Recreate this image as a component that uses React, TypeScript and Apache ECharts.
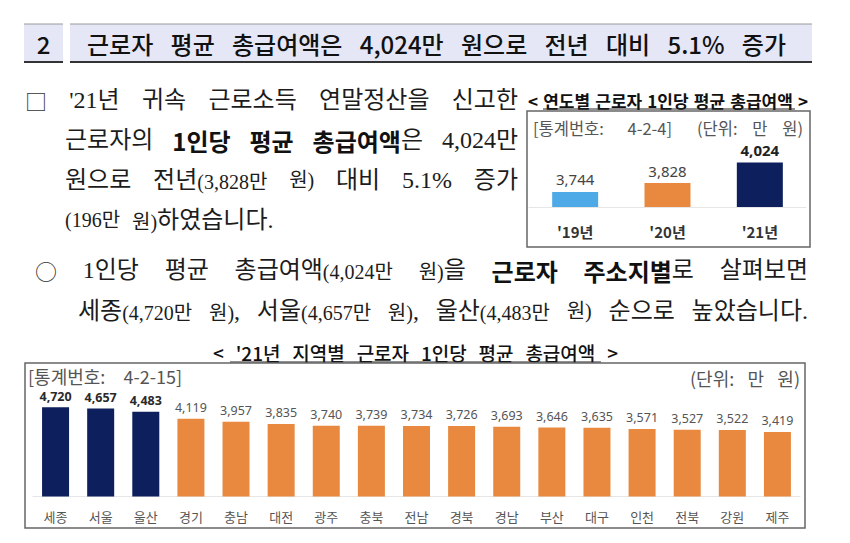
import React, { useEffect, useRef } from "react";
import * as echarts from "echarts";

// ---- data ----
const yearCategories = ["'19년", "'20년", "'21년"];
const yearValues = [3744, 3828, 4024];

const regionCategories = ["세종", "서울", "울산", "경기", "충남", "대전", "광주", "충북", "전남", "경북", "경남", "부산", "대구", "인천", "전북", "강원", "제주"];
const regionValues = [4720, 4657, 4483, 4119, 3957, 3835, 3740, 3739, 3734, 3726, 3693, 3646, 3635, 3571, 3527, 3522, 3419];

const NAVY = "#0d1f5c";
const ORANGE = "#e8893f";
const SKY = "#4eaae6";

const BODY = "'Liberation Serif','Noto Sans CJK KR',serif";
const SANS = "'Noto Sans CJK KR','Noto Sans',sans-serif";
const LABEL = "'Noto Sans','Noto Sans CJK KR',sans-serif";

const fmt = (v: number) => v.toLocaleString("en-US");

type Sty = { fontSize: number; fontFamily: string; fontWeight?: any; fill: string };
const rich: Record<string, Sty> = {
  n: { fontSize: 24, fontFamily: BODY, fill: "#1c1c1c" },
  b: { fontSize: 24, fontFamily: SANS, fontWeight: "bold", fill: "#111" },
  p: { fontSize: 20, fontFamily: BODY, fill: "#1c1c1c" },
  c: { fontSize: 22, fontFamily: SANS, fill: "#333" },
  h: { fontSize: 24, fontFamily: SANS, fontWeight: 500, fill: "#111" },
  t: { fontSize: 17, fontFamily: SANS, fontWeight: "bold", fill: "#111" },
  T: { fontSize: 19, fontFamily: SANS, fontWeight: 500, fill: "#111" },
  s: { fontSize: 16.5, fontFamily: SANS, fill: "#555" },
  S: { fontSize: 18, fontFamily: SANS, fill: "#555" },
};

let ctx: CanvasRenderingContext2D | null = null;
function measure(token: string) {
  if (!ctx) ctx = document.createElement("canvas").getContext("2d");
  let w = 0;
  const re = /\{(\w+)\|([^}]*)\}/g;
  let m: RegExpExecArray | null;
  while ((m = re.exec(token))) {
    const st = rich[m[1]];
    ctx!.font = `${st.fontWeight || "normal"} ${st.fontSize}px ${st.fontFamily}`;
    w += ctx!.measureText(m[2]).width;
  }
  return w;
}

function richStyle() {
  const out: any = {};
  Object.keys(rich).forEach((k) => {
    out[k] = { ...rich[k], verticalAlign: "bottom" };
  });
  return out;
}
const RICH = richStyle();

function txtEl(x: number, y: number, text: string, align = "left") {
  return {
    type: "text", x, y, silent: true,
    style: { text, rich: RICH, textAlign: align, textVerticalAlign: "middle" },
  };
}

// spread tokens evenly between left and right (justified line)
function justify(tokens: string[], left: number, right: number, y: number) {
  const widths = tokens.map(measure);
  const total = widths.reduce((a, b) => a + b, 0);
  const gap = tokens.length > 1 ? (right - left - total) / (tokens.length - 1) : 0;
  let x = left;
  return tokens.map((t, i) => {
    const el = txtEl(x, y, t);
    x += widths[i] + gap;
    return el;
  });
}

function flow(tokens: string[], left: number, y: number, gap: number) {
  let x = left;
  return tokens.map((t) => {
    const el = txtEl(x, y, t);
    x += measure(t) + gap;
    return el;
  });
}

export default function App() {
  const ref = useRef<HTMLDivElement>(null);
  useEffect(() => {
    if (!ref.current) return;
    const chart = echarts.init(ref.current, undefined, { renderer: "svg" });
    const graphic: any[] = [
      // header boxes
      { type: "rect", shape: { x: 24, y: 24, width: 39, height: 38 }, style: { fill: "#e5e7f6" } },
      { type: "rect", shape: { x: 70, y: 24, width: 742, height: 38 }, style: { fill: "#e5e7f6" } },
      { type: "line", shape: { x1: 24, y1: 24, x2: 63, y2: 24 }, style: { stroke: "#9a9a9a", lineWidth: 1 } },
      { type: "line", shape: { x1: 70, y1: 24, x2: 812, y2: 24 }, style: { stroke: "#9a9a9a", lineWidth: 1 } },
      { type: "line", shape: { x1: 24, y1: 62, x2: 63, y2: 62 }, style: { stroke: "#333", lineWidth: 2 } },
      { type: "line", shape: { x1: 70, y1: 62, x2: 812, y2: 62 }, style: { stroke: "#333", lineWidth: 2 } },
      txtEl(43.5, 43, "{h|2}", "center"),
      ...justify(["{h|근로자}", "{h|평균}", "{h|총급여액은}", "{h|4,024만}", "{h|원으로}", "{h|전년}", "{h|대비}", "{h|5.1%}", "{h|증가}"], 87, 786, 43),
      // paragraph 1
      ...justify(["{c|□}", "{n|'21년}", "{n|귀속}", "{n|근로소득}", "{n|연말정산을}", "{n|신고한}"], 25, 518, 100),
      ...justify(["{n|근로자의}", "{b|1인당}", "{b|평균}", "{b|총급여액}{n|은}", "{n|4,024만}"], 65, 518, 140),
      ...justify(["{n|원으로}", "{n|전년}{p|(3,828만}", "{p|원)}", "{n|대비}", "{n|5.1%}", "{n|증가}"], 65, 518, 180),
      ...flow(["{p|(196만}", "{p|원)}{n|하였습니다.}"], 65, 220, 12),
      // paragraph 2
      ...justify(["{c|○}", "{n|1인당}", "{n|평균}", "{n|총급여액}{p|(4,024만}", "{p|원)}{n|을}", "{b|근로자}", "{b|주소지별}{n|로}", "{n|살펴보면}"], 35, 808, 270),
      ...justify(["{n|세종}{p|(4,720만}", "{p|원)}{n|,}", "{n|서울}{p|(4,657만}", "{p|원)}{n|,}", "{n|울산}{p|(4,483만}", "{p|원)}", "{n|순으로}", "{n|높았습니다.}"], 78, 808, 311),
      // small chart frame
      ...justify(["{t|<}", "{t|연도별}", "{t|근로자}", "{t|1인당}", "{t|평균}", "{t|총급여액}", "{t|>}"], 528, 808, 100),
      { type: "line", shape: { x1: 543, y1: 109, x2: 795, y2: 109 }, style: { stroke: "#222", lineWidth: 1 } },
      { type: "rect", shape: { x: 527, y: 111, width: 283, height: 136 }, style: { fill: "none", stroke: "#666", lineWidth: 1.5 } },
      ...justify(["{s|[통계번호:}", "{s|4-2-4]}"], 533, 672, 128),
      ...justify(["{s|(단위:}", "{s|만}", "{s|원)}"], 697, 803, 128),
      // big chart frame
      ...justify(["{T|<}", "{T|'21년}", "{T|지역별}", "{T|근로자}", "{T|1인당}", "{T|평균}", "{T|총급여액}", "{T|>}"], 213, 618, 352),
      { type: "line", shape: { x1: 230, y1: 362, x2: 601, y2: 362 }, style: { stroke: "#222", lineWidth: 1 } },
      { type: "rect", shape: { x: 25, y: 363, width: 780, height: 165 }, style: { fill: "none", stroke: "#666", lineWidth: 1.5 } },
      ...justify(["{S|[통계번호:}", "{S|4-2-15]}"], 28, 182, 376),
      ...justify(["{S|(단위:}", "{S|만}", "{S|원)}"], 690, 800, 378),
    ];

    const yearColors = [SKY, ORANGE, NAVY];
    const option: any = {
      animation: false,
      backgroundColor: "#ffffff",
      grid: [
        { left: 529, top: 144, width: 277, height: 63 },
        { left: 33, top: 402, width: 767, height: 94.5 },
      ],
      xAxis: [
        {
          type: "category", gridIndex: 0, data: yearCategories,
          axisLine: { lineStyle: { color: "#e6e6e6" } }, axisTick: { show: false },
          axisLabel: { margin: 17, fontSize: 15, fontWeight: "bold", color: "#333", fontFamily: SANS },
        },
        {
          type: "category", gridIndex: 1, data: regionCategories,
          axisLine: { lineStyle: { color: "#e6e6e6" } }, axisTick: { show: false },
          axisLabel: { margin: 13, fontSize: 13, color: "#555", fontFamily: SANS },
        },
      ],
      yAxis: [
        { type: "value", gridIndex: 0, min: 3600, max: 4200, show: false },
        { type: "value", gridIndex: 1, min: 0, max: 5000, show: false },
      ],
      series: [
        {
          type: "bar", xAxisIndex: 0, yAxisIndex: 0, barWidth: 46,
          data: yearValues.map((v, i) => ({
            value: v,
            itemStyle: { color: yearColors[i] },
            label: i === 2 ? { fontWeight: "bold", color: "#222" } : {},
          })),
          label: { show: true, position: "top", distance: 5, fontSize: 15, color: "#444", fontFamily: LABEL, formatter: (p: any) => fmt(p.value) },
        },
        {
          type: "bar", xAxisIndex: 1, yAxisIndex: 1, barWidth: 27,
          data: regionValues.map((v, i) => ({
            value: v,
            itemStyle: { color: i < 3 ? NAVY : ORANGE },
            label: i < 3 ? { fontWeight: "bold", color: "#2a2a2a" } : {},
          })),
          label: { show: true, position: "top", distance: 5, fontSize: 12.5, color: "#555", fontFamily: LABEL, formatter: (p: any) => fmt(p.value) },
        },
      ],
      graphic,
    };
    chart.setOption(option);
    return () => chart.dispose();
  }, []);
  return <div ref={ref} style={{ position: "absolute", left: 0, top: 0, width: 850, height: 543, background: "#fff" }} />;
}
